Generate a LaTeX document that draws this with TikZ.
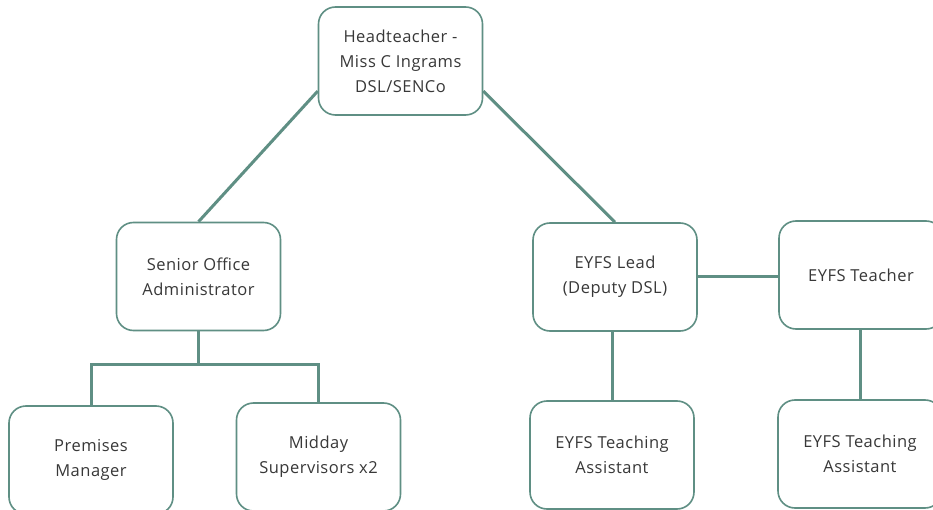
\documentclass[tikz,border=0pt]{standalone}
\usepackage{fontspec}
\setmainfont{Open Sans}[LetterSpace=3]
\usepackage{tikz}

\definecolor{staffline}{HTML}{5F8F84}
\definecolor{stafftext}{HTML}{383838}

\begin{document}
\begin{tikzpicture}[x=1pt,y=-1pt,
    role/.style={draw=staffline,line width=1.6pt,rounded corners=17pt,fill=white,
      minimum width=164pt,minimum height=108pt,align=center,text=stafftext,
      font=\fontsize{16.5}{25}\selectfont},
    link/.style={draw=staffline,line width=3pt}]
    \useasboundingbox[fill=white] (0,0) rectangle (933,510);
    \node[role] (head) at (400.5,61) {Headteacher -\\Miss C Ingrams\\DSL/SENCo};
    \node[role] (office) at (198.5,276.5) {Senior Office\\Administrator};
    \node[role] (lead) at (615,277) {EYFS Lead\\(Deputy DSL)};
    \node[role] (teacher) at (861,275) {EYFS Teacher};
    \node[role] (premises) at (91,460) {Premises\\Manager};
    \node[role] (midday) at (318.5,457) {Midday\\Supervisors x2};
    \node[role] (ta1) at (612,455) {EYFS Teaching\\Assistant};
    \node[role] (ta2) at (860,454) {EYFS Teaching\\Assistant};
    \draw[link] (head.200) -- (office.north);
    \draw[link] (head.-20) -- (lead.north);
    \draw[link] (lead.east) -- (lead.east -| teacher.west);
    \draw[link] (office.south) -- ++(0,33) coordinate (split);
    \draw[link] (premises.north) |- (split) -| (midday.north);
    \draw[link] (lead.south -| ta1.north) -- (ta1.north);
    \draw[link] (teacher.south -| ta2.north) -- (ta2.north);
\end{tikzpicture}
\end{document}
